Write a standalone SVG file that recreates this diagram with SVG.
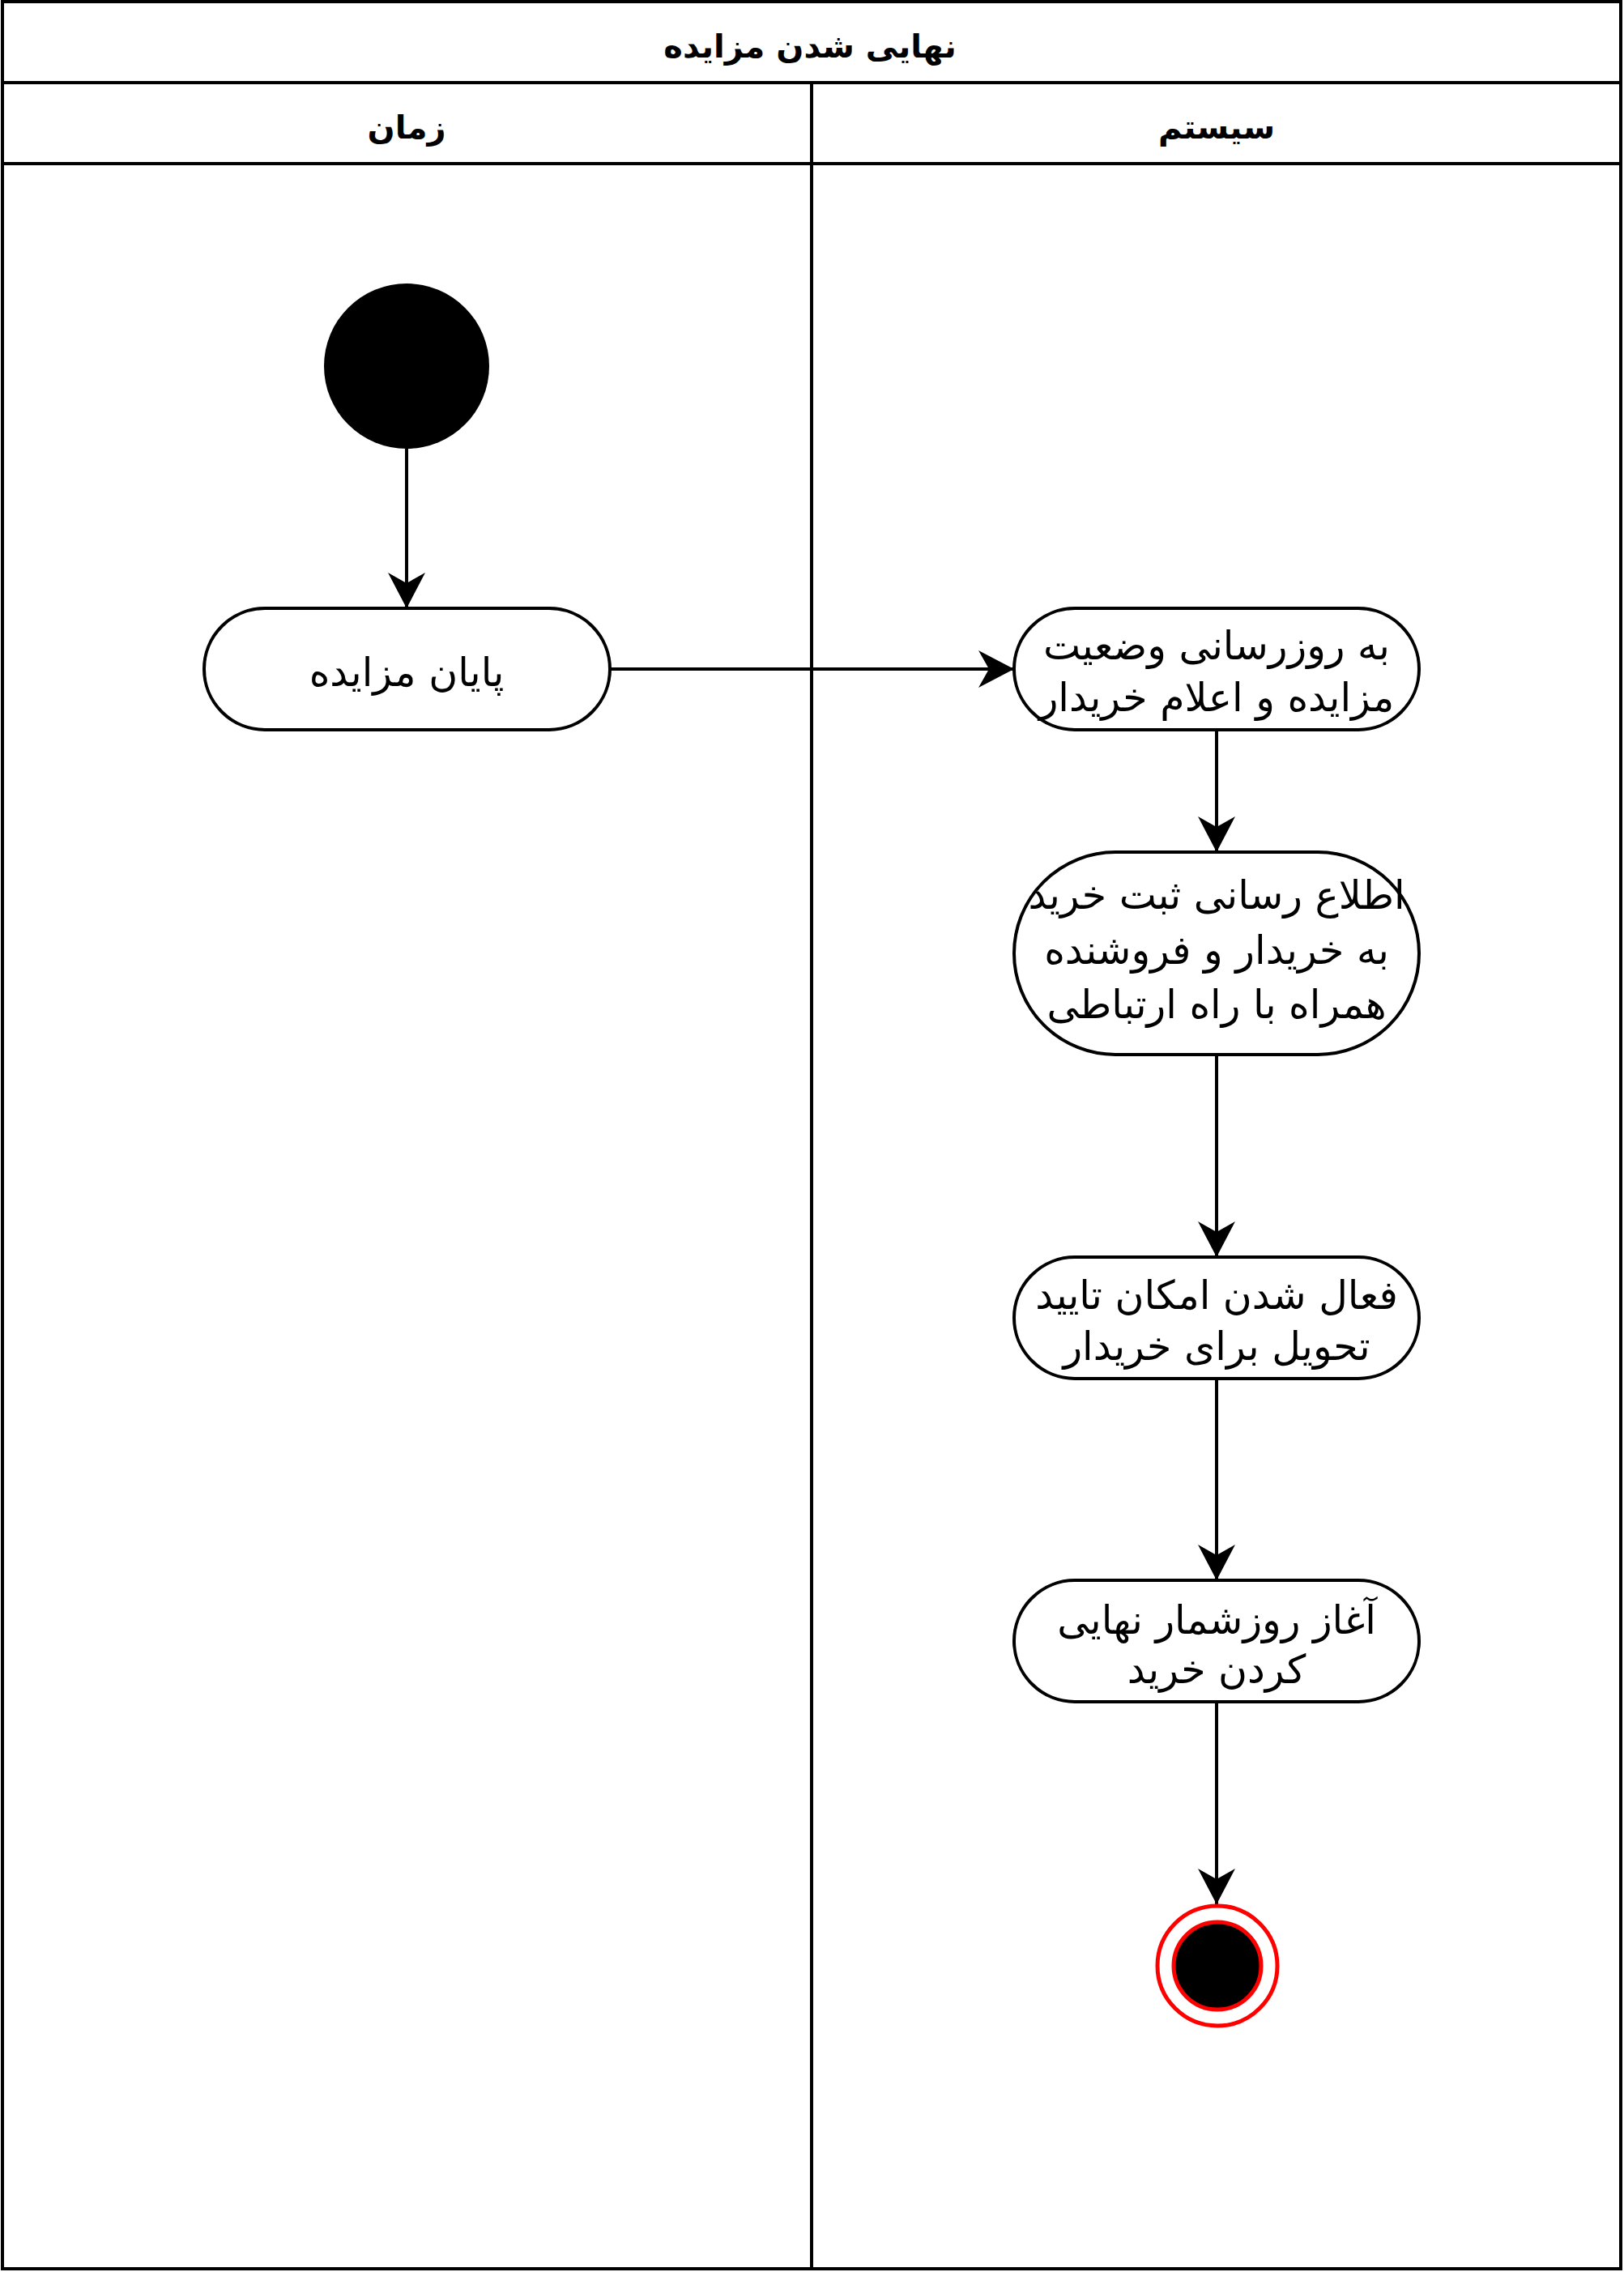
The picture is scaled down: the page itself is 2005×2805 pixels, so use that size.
<svg xmlns="http://www.w3.org/2000/svg" width="2005" height="2805" viewBox="0 0 2005 2805">
<style>
.frame{fill:#fff;stroke:#000;stroke-width:4}
.ln{stroke:#000;stroke-width:4;fill:none}
.act{fill:#fff;stroke:#000;stroke-width:4}
.t{font-family:"DejaVu Sans","Liberation Sans",sans-serif;font-size:49px;fill:#000;text-anchor:middle}
.h{font-family:"DejaVu Sans","Liberation Sans",sans-serif;font-size:40px;font-weight:bold;fill:#000;text-anchor:middle}
</style>
<defs>
<marker id="arr" markerUnits="userSpaceOnUse" viewBox="0 0 44 46" refX="44" refY="23" markerWidth="44" markerHeight="46" orient="auto">
<path d="M44,23 L0,0 L13,23 L0,46 Z" fill="#000"/>
</marker>
</defs>
<g id="pool">
<rect class="frame" x="3" y="2" width="1998" height="2799"/>
<line class="ln" x1="3" y1="102" x2="2001" y2="102"/>
<line class="ln" x1="3" y1="202" x2="2001" y2="202"/>
<line class="ln" x1="1002" y1="102" x2="1002" y2="2801"/>
<text class="h" x="1000" y="71">نهایی شدن مزایده</text>
<text class="h" x="502" y="171">زمان</text>
<text class="h" x="1502" y="171">سیستم</text>
</g>
<g id="connectors">
<line class="ln" x1="502" y1="554" x2="502" y2="751" marker-end="url(#arr)"/>
<line class="ln" x1="753" y1="826" x2="1252" y2="826" marker-end="url(#arr)"/>
<line class="ln" x1="1502" y1="901" x2="1502" y2="1052" marker-end="url(#arr)"/>
<line class="ln" x1="1502" y1="1302" x2="1502" y2="1552" marker-end="url(#arr)"/>
<line class="ln" x1="1502" y1="1702" x2="1502" y2="1951" marker-end="url(#arr)"/>
<line class="ln" x1="1502" y1="2101" x2="1502" y2="2351" marker-end="url(#arr)"/>
</g>
<g id="start">
<circle cx="502" cy="452" r="102" fill="#000"/>
</g>
<g id="n_end_auction">
<rect class="act" x="252" y="751" width="501" height="150" rx="75" ry="75"/>
<text class="t" x="502" y="847">پایان مزایده</text>
</g>
<g id="n_update">
<rect class="act" x="1252" y="751" width="500" height="150" rx="75" ry="75"/>
<text class="t" x="1502" y="814">به روزرسانی وضعیت</text>
<text class="t" x="1502" y="878">مزایده و اعلام خریدار</text>
</g>
<g id="n_notify">
<rect class="act" x="1252" y="1052" width="500" height="250" rx="125" ry="125"/>
<text class="t" x="1502" y="1122">اطلاع رسانی ثبت خرید</text>
<text class="t" x="1502" y="1190">به خریدار و فروشنده</text>
<text class="t" x="1502" y="1257">همراه با راه ارتباطی</text>
</g>
<g id="n_delivery">
<rect class="act" x="1252" y="1552" width="500" height="150" rx="75" ry="75"/>
<text class="t" x="1502" y="1616">فعال شدن امکان تایید</text>
<text class="t" x="1502" y="1679">تحویل برای خریدار</text>
</g>
<g id="n_countdown">
<rect class="act" x="1252" y="1951" width="500" height="150" rx="75" ry="75"/>
<text class="t" x="1502" y="2017">آغاز روزشمار نهایی</text>
<text class="t" x="1502" y="2078">کردن خرید</text>
</g>
<g id="end">
<circle cx="1503" cy="2427" r="74" fill="#fff" stroke="#ff0000" stroke-width="5"/>
<circle cx="1503" cy="2427" r="54" fill="#000" stroke="#ff0000" stroke-width="5"/>
</g>
</svg>
